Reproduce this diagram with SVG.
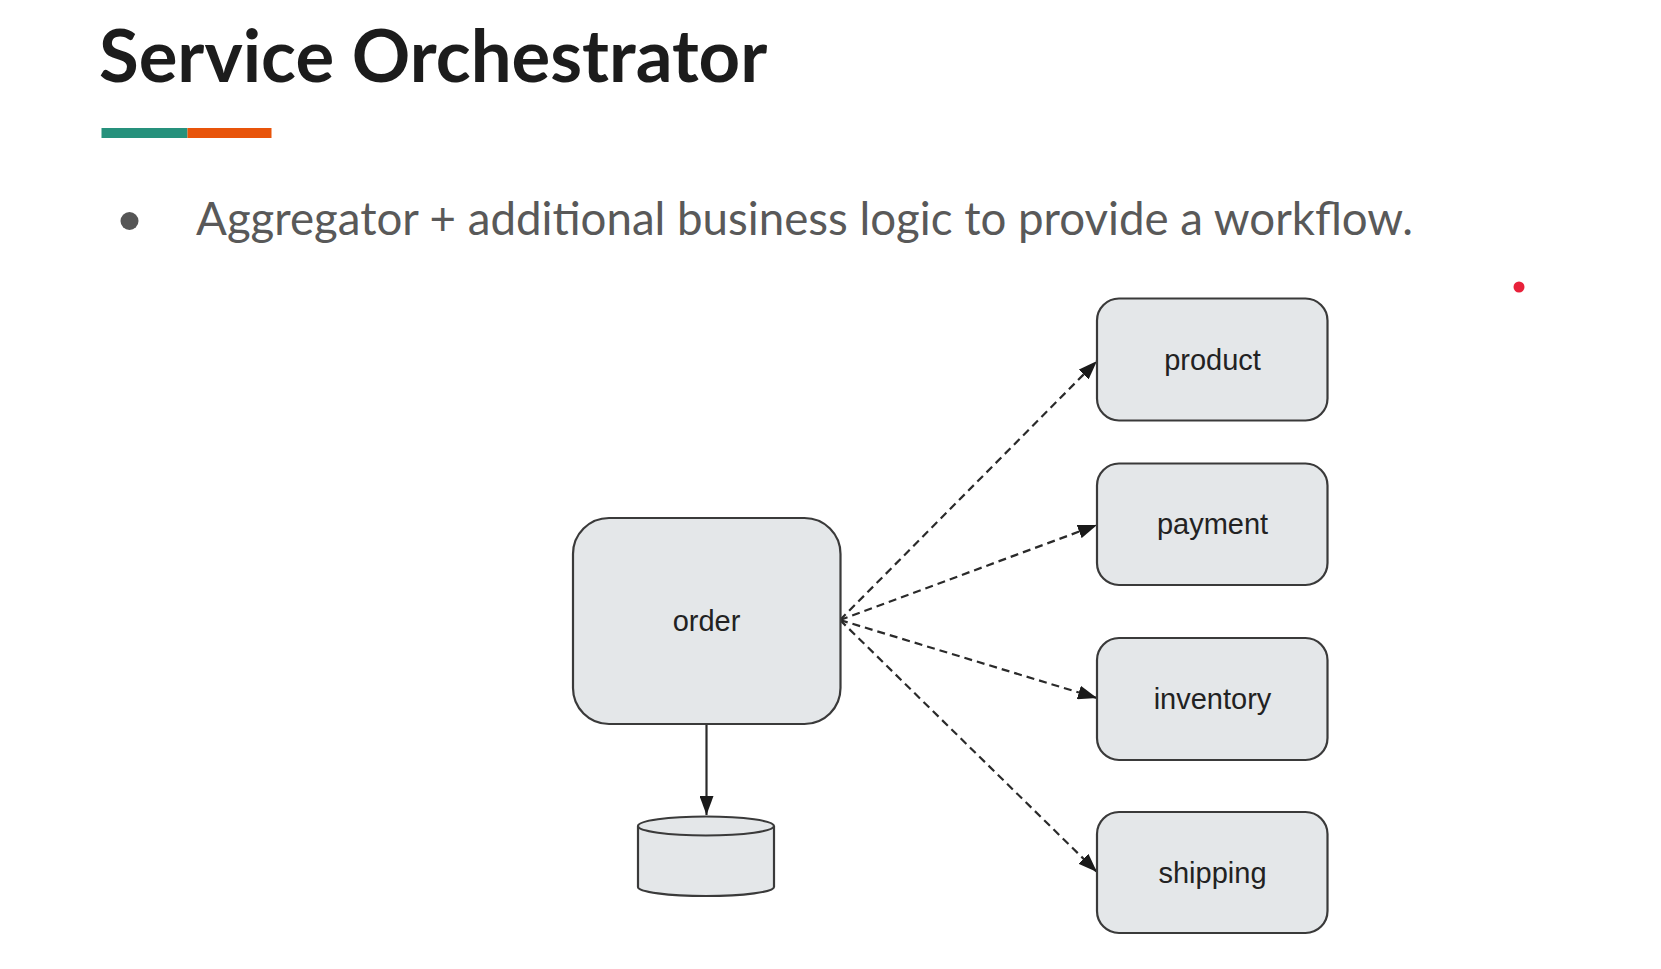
<svg xmlns="http://www.w3.org/2000/svg" width="1661" height="969" viewBox="0 0 1661 969">
  <style>
    .box { fill: #e4e7e9; stroke: #3a3a3a; stroke-width: 2.2; }
    .lbl { font-family: "Liberation Sans", Arial, sans-serif; font-size: 29px; fill: #222; text-anchor: middle; }
    .dash { fill: none; stroke: #2a2a2a; stroke-width: 2.2; stroke-dasharray: 8 5; }
    .solid { fill: none; stroke: #2a2a2a; stroke-width: 2.2; }
  </style>
  <defs>
    <marker id="arr" markerUnits="userSpaceOnUse" markerWidth="20" markerHeight="14" refX="19" refY="7" orient="auto">
      <path d="M0,0 L19,7 L0,14 z" fill="#1a1a1a"/>
    </marker>
  </defs>
  <rect width="1661" height="969" fill="#ffffff"/>
  <g id="title">
    <text x="99" y="82" font-family="Lato, 'Open Sans', sans-serif" font-weight="700" font-size="72.5" fill="#1c1c1c">Service Orchestrator</text>
    <rect x="101.5" y="128" width="86" height="10" fill="#26917c"/>
    <rect x="187.5" y="128" width="84" height="10" fill="#e8540a"/>
  </g>
  <g id="bullet">
    <circle cx="129.5" cy="221" r="9" fill="#555555"/>
    <text x="196" y="235" font-family="Lato, 'Open Sans', sans-serif" font-size="46" fill="#595959" textLength="1217" lengthAdjust="spacingAndGlyphs">Aggregator + additional business logic to provide a workflow.</text>
  </g>
  <circle id="pointer" cx="1519" cy="287" r="5.5" fill="#e8213a"/>
  <g id="connectors">
    <line class="dash" x1="840" y1="620" x2="1097" y2="361" marker-end="url(#arr)"/>
    <line class="dash" x1="840" y1="620" x2="1097" y2="525" marker-end="url(#arr)"/>
    <line class="dash" x1="840" y1="620" x2="1097" y2="698" marker-end="url(#arr)"/>
    <line class="dash" x1="840" y1="620" x2="1097" y2="872" marker-end="url(#arr)"/>
    <line class="solid" x1="706.5" y1="724" x2="706.5" y2="815" marker-end="url(#arr)"/>
  </g>
  <g id="order">
    <rect class="box" x="573" y="518" width="267.5" height="206" rx="36" ry="36"/>
    <text class="lbl" x="706.5" y="631">order</text>
  </g>
  <g id="db">
    <path class="box" d="M638,826 L638,887 A68,9 0 0 0 774,887 L774,826"/>
    <ellipse class="box" cx="706" cy="826" rx="68" ry="9.5"/>
  </g>
  <g id="product">
    <rect class="box" x="1097" y="298.5" width="230.5" height="122" rx="22" ry="22"/>
    <text class="lbl" x="1212.5" y="369.5">product</text>
  </g>
  <g id="payment">
    <rect class="box" x="1097" y="463.5" width="230.5" height="121.5" rx="22" ry="22"/>
    <text class="lbl" x="1212.5" y="534">payment</text>
  </g>
  <g id="inventory">
    <rect class="box" x="1097" y="638" width="230.5" height="122" rx="22" ry="22"/>
    <text class="lbl" x="1212.5" y="709">inventory</text>
  </g>
  <g id="shipping">
    <rect class="box" x="1097" y="812" width="230.5" height="121" rx="22" ry="22"/>
    <text class="lbl" x="1212.5" y="882.5">shipping</text>
  </g>
</svg>
